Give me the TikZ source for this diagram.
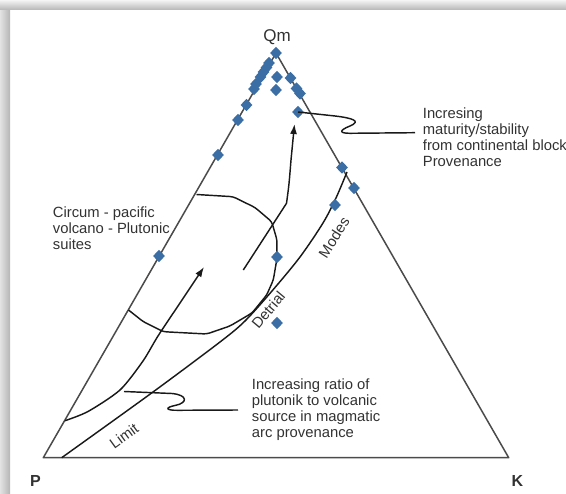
\documentclass[tikz,border=0pt]{standalone}
\usepackage{fontspec}
\setmainfont{Liberation Sans}
\usetikzlibrary{shapes.geometric,arrows.meta}
\definecolor{dia}{RGB}{59,110,165}
\definecolor{txt}{RGB}{50,50,50}
\definecolor{edgec}{RGB}{75,75,75}
\tikzset{
  dm/.style={diamond, fill=dia, minimum width=12pt, minimum height=12.5pt, inner sep=0pt},
  lbl/.style={text=txt, font=\fontsize{14.8}{16}\selectfont, align=left, inner sep=0pt},
  corner/.style={text=txt, font=\fontsize{16}{18}\selectfont\bfseries, inner sep=0pt},
  curve/.style={draw=black!90, line width=1.45pt, line join=round},
  edgeline/.style={draw=edgec, line width=1.5pt, line join=round},
  tipa/.style={-{Latex[length=10pt,width=7pt]}}
}
\begin{document}
\begin{tikzpicture}[x=1pt,y=-1pt]
\useasboundingbox (0,0) rectangle (566,494);
% frame shadow
\fill[left color=gray!22, right color=gray!58] (0,0) rectangle (10,494);
\fill[top color=gray!8, bottom color=gray!55] (0,0) rectangle (566,9.5);
% corners
\coordinate (cQ) at (276,53);
\coordinate (cP) at (43.3,457.7);
\coordinate (cK) at (508.7,457.7);
\draw[edgeline] (cP) -- (cQ) -- (cK) -- cycle;
% region boundary
\draw[curve, rounded corners=3pt] (196.5,194.5) -- (233,196.7) -- (255,207.5) -- (271.7,221.7) -- (277,240) -- (276.7,260) -- (273.3,280) -- (266.7,295) -- (252,313) -- (230,326) -- (206.7,334) -- (163.3,331.7) -- (143.3,321.7) -- (128.5,310);
% right arrow
\draw[curve, tipa] (243.3,270) -- (286.5,203.3) .. controls (289,185) .. (291,160) -- (294.5,124);
% left arrow
\draw[curve, tipa] plot[smooth, tension=0.45] coordinates {(65,420.7) (88,411.5) (120,390) (143,361) (158,336) (180,303) (204,267)};
% detrial line
\draw[curve] plot[smooth, tension=0.5] coordinates {(61.7,457.7) (153,392) (220,342) (245,321) (272,291) (300,257) (323,223) (336,198) (347,172)};
% diamonds
\node[dm] (d1) at (276,53) {};
\node[dm] (d2) at (269,63) {};
\node[dm] (d3) at (266.5,67.5) {};
\node[dm] (d4) at (263.5,72) {};
\node[dm] (d5) at (260.5,77) {};
\node[dm] (d6) at (256,84) {};
\node[dm] (d7) at (254,89) {};
\node[dm] (d8) at (246.5,105) {};
\node[dm] (d9) at (238,120) {};
\node[dm] (d10) at (218,155) {};
\node[dm] (d11) at (159,256) {};
\node[dm] (d12) at (277,77) {};
\node[dm] (d13) at (276,90) {};
\node[dm] (d14) at (298,112) {};
\node[dm] (d15) at (335,205) {};
\node[dm] (d16) at (277,257) {};
\node[dm] (d17) at (277,323) {};
\node[dm] (d18) at (290.5,78) {};
\node[dm] (d19) at (296.5,88.5) {};
\node[dm] (d20) at (300,93.5) {};
\node[dm] (d21) at (342,167.5) {};
\node[dm] (d22) at (354,188) {};
% labels
\node[text=txt, font=\fontsize{17}{19}\selectfont, inner sep=0pt] (lQm) at (277,37) {Qm};
\node[corner] (lP) at (35.5,480.5) {P};
\node[corner] (lK) at (517.5,480.5) {K};
\node[lbl, anchor=north west] (tcirc) at (52.7,206.5) {Circum - pacific\\volcano - Plutonic\\suites};
\node[lbl, anchor=north west] (tmat) at (422.7,107.3) {Incresing\\maturity/stability\\from continental block\\Provenance};
\node[lbl, anchor=north west] (tratio) at (251.7,379) {Increasing ratio of\\plutonik to volcanic\\source in magmatic\\arc provenance};
\node[lbl, rotate=36] (tlimit) at (124,436) {Limit};
\node[lbl, rotate=50] (tdet) at (268.3,310) {Detrial};
\node[lbl, rotate=58] (tmod) at (334,237.5) {Modes};
% leaders
\coordinate (e1) at (415,132.7);
\coordinate (e2) at (238,410);
\coordinate (s2) at (124,391.5);
\draw[curve] (d14.center) -- (335,116) .. controls (352,118) and (362,121) .. (350,126) .. controls (340,130) and (338,133.3) .. (350,133.3) -- (e1);
\draw[curve] (s2) -- (172,393.5) .. controls (188,395) and (188,403) .. (175,405.5) .. controls (165,407.5) and (165,410.5) .. (178,410.3) -- (e2);
\end{tikzpicture}
\end{document}
